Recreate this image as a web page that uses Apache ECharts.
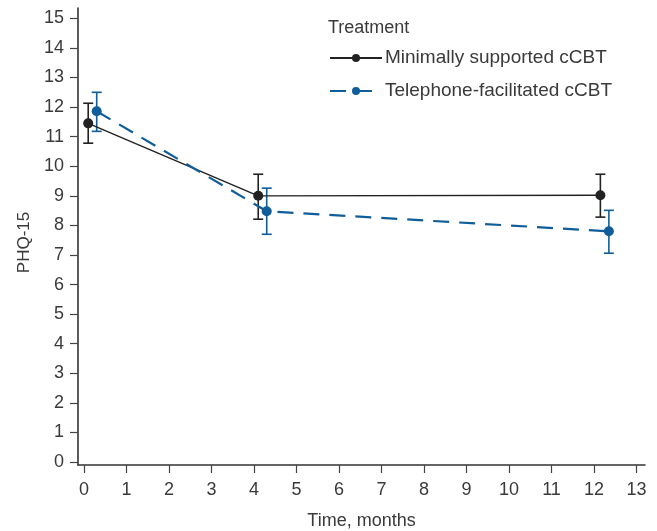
<!DOCTYPE html>
<html><head><meta charset="utf-8">
<script src="https://cdn.jsdelivr.net/npm/echarts@6/dist/echarts.min.js"></script>
<style>html,body{margin:0;padding:0;background:#fff}#c{width:657px;height:531px}</style>
</head><body><div id="c"></div>
<script>
const seriesNames = ['Minimally supported cCBT', 'Telephone-facilitated cCBT'];
const minimalX = [0.1, 4.1, 12.15];
const minimalMean = [11.45, 9.0, 9.02];
const minimalLow = [10.78, 8.21, 8.28];
const minimalHigh = [12.13, 9.73, 9.73];
const phoneX = [0.3, 4.3, 12.35];
const phoneMean = [11.86, 8.48, 7.8];
const phoneLow = [11.18, 7.7, 7.06];
const phoneHigh = [12.5, 9.26, 8.51];
const xTicks = [0,1,2,3,4,5,6,7,8,9,10,11,12,13];
const yTicks = [0,1,2,3,4,5,6,7,8,9,10,11,12,13,14,15];

const black = '#222222';
const blue = '#0f5d99';
const txt = '#3a3a3a';
const font = 'Liberation Sans, Arial, sans-serif';
const fs = 18;

function pts(xs, ys){ return xs.map((x,i)=>[x, ys[i]]); }
function errData(xs, lo, hi){ return xs.map((x,i)=>[x, lo[i], hi[i]]); }
function errSeries(data, color){
  return {
    type:'custom', silent:true, z:3,
    data: data,
    renderItem: function(params, api){
      const x = api.value(0);
      const lo = api.coord([x, api.value(1)]);
      const hi = api.coord([x, api.value(2)]);
      const w = 5;
      const st = {stroke: color, lineWidth: 1.6, fill:null};
      return {type:'group', children:[
        {type:'line', shape:{x1:lo[0],y1:lo[1],x2:hi[0],y2:hi[1]}, style:st},
        {type:'line', shape:{x1:lo[0]-w,y1:lo[1],x2:lo[0]+w,y2:lo[1]}, style:st},
        {type:'line', shape:{x1:hi[0]-w,y1:hi[1],x2:hi[0]+w,y2:hi[1]}, style:st}
      ]};
    }
  };
}

const chart = echarts.init(document.getElementById('c'), null, {renderer:'canvas'});
chart.setOption({
  animation:false,
  backgroundColor:'#fff',
  textStyle:{fontFamily:font},
  grid:{left:78, right:12, top:8, bottom:66, containLabel:false, outerBoundsMode:'none'},
  title:{text:'Treatment', left:328, top:19, padding:0, textStyle:{fontFamily:font, fontSize:fs, fontWeight:'normal', color:txt}},
  legend:{
    orient:'vertical', left:329, top:48, padding:0, itemWidth:52, itemHeight:10, itemGap:13,
    data: seriesNames,
    textStyle:{fontFamily:font, fontSize:19, lineHeight:20, color:txt, padding:[0,0,0,-2]}
  },
  xAxis:{
    type:'value', min:-0.14, max:13.2, interval:1,
    name:'Time, months', nameLocation:'middle', nameGap:47,
    nameTextStyle:{fontFamily:font, fontSize:fs, color:txt},
    axisLine:{show:true, onZero:false, lineStyle:{color:'#333', width:1.6}},
    axisTick:{show:true, length:8, lineStyle:{color:'#444', width:1.2}, customValues: xTicks},
    axisLabel:{fontFamily:font, fontSize:fs, color:txt, margin:16, customValues: xTicks},
    splitLine:{show:false}
  },
  yAxis:{
    type:'value', min:-0.1, max:15.35, interval:1,
    name:'PHQ-15', nameLocation:'middle', nameGap:44,
    nameTextStyle:{fontFamily:font, fontSize:17, color:txt, padding:[0,12,0,0]},
    axisLine:{show:true, onZero:false, lineStyle:{color:'#333', width:1.6}},
    axisTick:{show:true, length:8, lineStyle:{color:'#444', width:1.2}, customValues: yTicks},
    axisLabel:{fontFamily:font, fontSize:fs, color:txt, margin:14, customValues: yTicks},
    splitLine:{show:false}
  },
  series:[
    errSeries(errData(minimalX, minimalLow, minimalHigh), black),
    errSeries(errData(phoneX, phoneLow, phoneHigh), blue),
    {
      name: seriesNames[0], type:'line', data: pts(minimalX, minimalMean), z:4,
      symbol:'circle', symbolSize:10, color: black,
      itemStyle:{color:black},
      lineStyle:{color:black, width:1.4}
    },
    {
      name: seriesNames[1], type:'line', data: pts(phoneX, phoneMean), z:4,
      symbol:'circle', symbolSize:10, color: blue,
      itemStyle:{color:blue},
      lineStyle:{color:blue, width:2.2, type:[16,10]}
    }
  ]
});
</script></body></html>
